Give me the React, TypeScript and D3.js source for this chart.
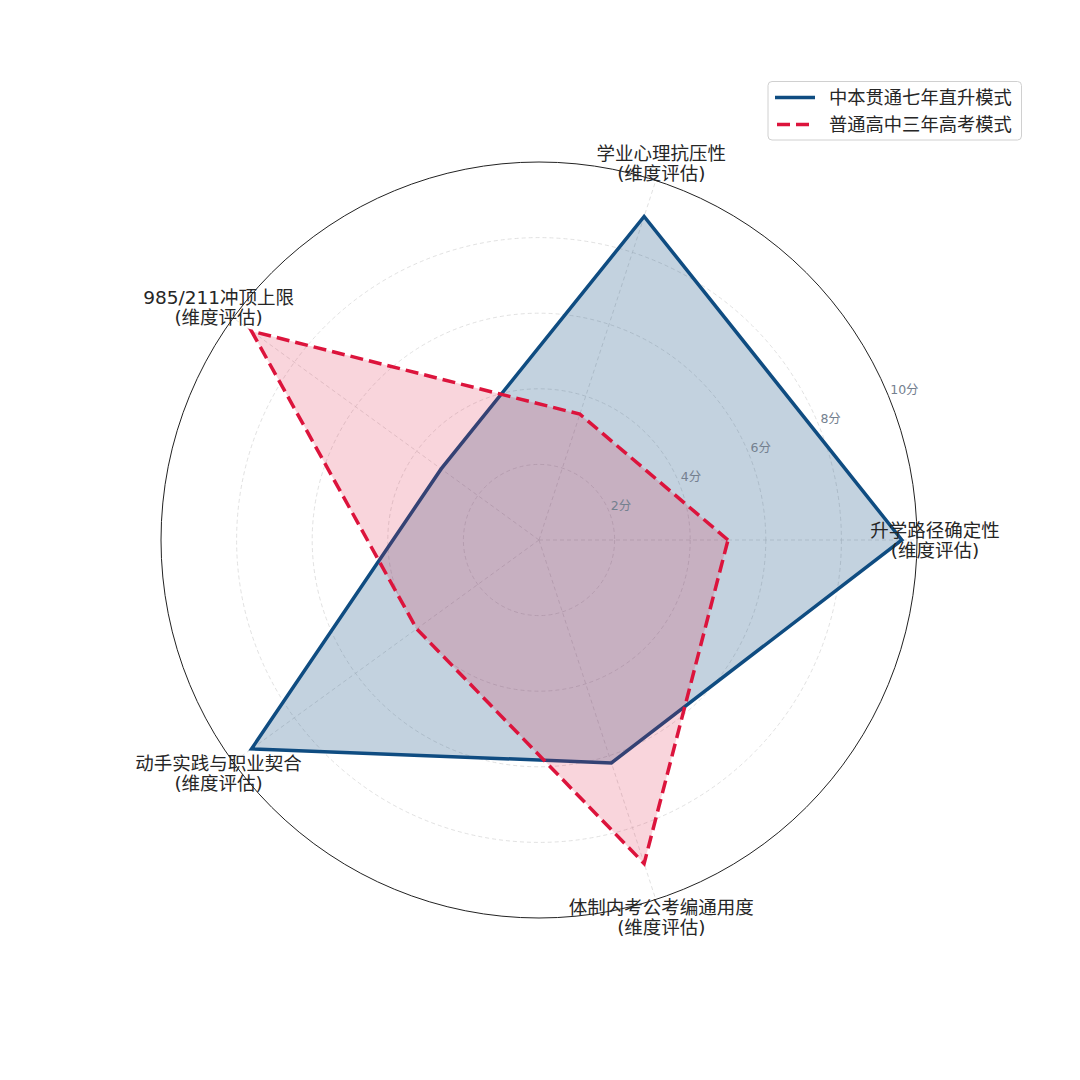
import React from "react";
import * as d3 from "d3";

const categories: string[] = [
  "升学路径确定性",
  "学业心理抗压性",
  "985/211冲顶上限",
  "动手实践与职业契合",
  "体制内考公考编通用度",
];
const categorySuffix = "(维度评估)";
const seriesNames: string[] = ["中本贯通七年直升模式", "普通高中三年高考模式"];
const blueValues: number[] = [9.6, 9.0, 3.2, 9.4, 6.2];
const redValues: number[] = [5.0, 3.5, 9.4, 4.0, 9.0];
const radialTicks: number[] = [2, 4, 6, 8, 10];
const tickSuffix = "分";

const W = 1080;
const H = 1080;
const CX = 539;
const CY = 540;
const R = 378;
const BLUE = "#0f4c81";
const RED = "#dc143c";
const CJK = "'DejaVu Sans', 'Noto Sans CJK SC', sans-serif";

export default function App() {
  const r = d3.scaleLinear().domain([0, 10]).range([0, R]);
  const n = categories.length;
  const theta = (i: number) => (i * 2 * Math.PI) / n;
  const d3a = (i: number) => Math.PI / 2 - theta(i);

  const radial = d3
    .lineRadial<number>()
    .angle((_, i) => d3a(i))
    .radius((d) => r(d))
    .curve(d3.curveLinearClosed);

  const pt = (i: number, rad: number) => [
    CX + rad * Math.cos(theta(i)),
    CY - rad * Math.sin(theta(i)),
  ];

  const tickAng = (22.5 * Math.PI) / 180;

  return (
    <div style={{ position: "fixed", left: 0, top: 0, width: W, height: H, background: "#fff" }}>
      <svg width={W} height={H} style={{ display: "block" }}>
        <rect width={W} height={H} fill="#fff" />
        <g transform={`translate(${CX},${CY})`}>
          {radialTicks.slice(0, -1).map((t) => (
            <circle
              key={t}
              r={r(t)}
              fill="none"
              stroke="#d4d4d4"
              strokeWidth={0.7}
              strokeDasharray="4 3"
            />
          ))}
          {categories.map((_, i) => {
            const [x, y] = pt(i, R);
            return (
              <line
                key={i}
                x1={0}
                y1={0}
                x2={x - CX}
                y2={y - CY}
                stroke="#d4d4d4"
                strokeWidth={0.7}
                strokeDasharray="4 3"
              />
            );
          })}
          <path d={radial(blueValues) || ""} fill={BLUE} fillOpacity={0.25} stroke="none" />
          <path
            d={radial(blueValues) || ""}
            fill="none"
            stroke={BLUE}
            strokeWidth={3.5}
            strokeLinejoin="miter"
          />
          <path d={radial(redValues) || ""} fill={RED} fillOpacity={0.18} stroke="none" />
          <path
            d={radial(redValues) || ""}
            fill="none"
            stroke={RED}
            strokeWidth={3.5}
            strokeDasharray="13 6"
            strokeLinejoin="miter"
          />
          <circle r={R} fill="none" stroke="#222" strokeWidth={1} />
        </g>
        {radialTicks.map((t) => {
          const rr = r(t);
          const x = CX + rr * Math.cos(tickAng) + 2;
          const y = CY - rr * Math.sin(tickAng) - 6;
          return (
            <text
              key={t}
              x={x}
              y={y}
              fill="#74808f"
              fontSize={12.5}
              fontFamily={CJK}
              dominantBaseline="central"
            >
              {`${t}${tickSuffix}`}
            </text>
          );
        })}
        {categories.map((c, i) => {
          const [x, y] = pt(i, 396);
          return (
            <text
              key={c}
              x={x}
              textAnchor="middle"
              fill="#262626"
              fontSize={18.5}
              fontFamily={CJK}
              dominantBaseline="central"
            >
              <tspan x={x} y={y - 10}>
                {c}
              </tspan>
              <tspan x={x} y={y + 10}>
                {categorySuffix}
              </tspan>
            </text>
          );
        })}
        <g>
          <rect
            x={768}
            y={81.5}
            width={253.5}
            height={58.5}
            rx={4}
            fill="#fff"
            fillOpacity={0.85}
            stroke="#d0d0d0"
            strokeWidth={1}
          />
          {seriesNames.map((s, i) => {
            const y = 97.5 + i * 27;
            return (
              <g key={s}>
                <line
                  x1={775}
                  x2={815}
                  y1={y}
                  y2={y}
                  stroke={i === 0 ? BLUE : RED}
                  strokeWidth={3.5}
                  strokeDasharray={i === 0 ? undefined : "13 6"}
                  strokeDashoffset={i === 0 ? 0 : -2}
                />
                <text
                  x={829}
                  y={y}
                  fill="#262626"
                  fontSize={18.3}
                  fontFamily={CJK}
                  dominantBaseline="central"
                >
                  {s}
                </text>
              </g>
            );
          })}
        </g>
      </svg>
    </div>
  );
}
